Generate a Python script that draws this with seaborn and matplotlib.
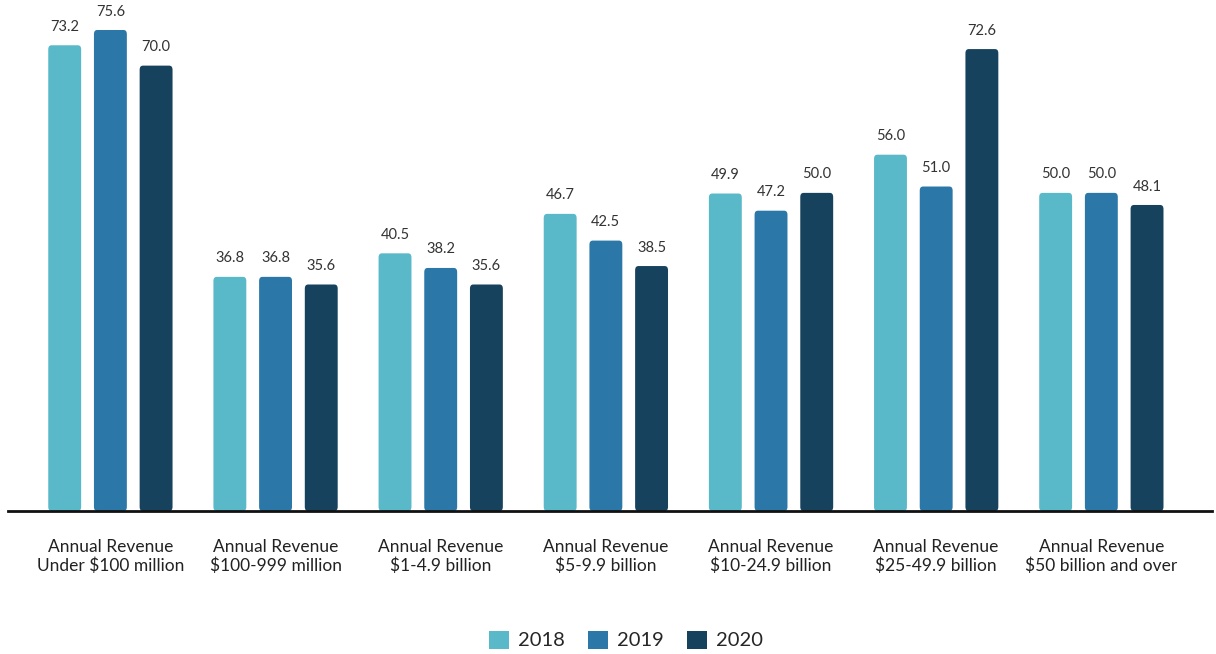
import matplotlib
matplotlib.use("Agg")
import matplotlib.pyplot as plt
import seaborn as sns
import pandas as pd
from matplotlib.patches import FancyBboxPatch, Patch

categories = [
    "Annual Revenue\nUnder $100 million",
    "Annual Revenue\n$100-999 million",
    "Annual Revenue\n$1-4.9 billion",
    "Annual Revenue\n$5-9.9 billion",
    "Annual Revenue\n$10-24.9 billion",
    "Annual Revenue\n$25-49.9 billion",
    "Annual Revenue\n$50 billion and over",
]
years = ["2018", "2019", "2020"]
values_2018 = [73.2, 36.8, 40.5, 46.7, 49.9, 56.0, 50.0]
values_2019 = [75.6, 36.8, 38.2, 42.5, 47.2, 51.0, 50.0]
values_2020 = [70.0, 35.6, 35.6, 38.5, 50.0, 72.6, 48.1]
colors = ["#5ab9c9", "#2a77a8", "#17425d"]

rows = []
for yr, vals in zip(years, [values_2018, values_2019, values_2020]):
    for c, v in zip(categories, vals):
        rows.append({"category": c, "year": yr, "value": v})
df = pd.DataFrame(rows)

sns.set_style("white")
plt.rcParams["font.family"] = ["Lato", "DejaVu Sans"]

fig = plt.figure(figsize=(12.16, 6.54), dpi=100)
ax = fig.add_axes([8 / 1216, (654 - 511) / 654, (1212 - 8) / 1216, 509 / 654])

sns.barplot(data=df, x="category", y="value", hue="year", order=categories,
            hue_order=years, palette=colors, width=0.83, gap=0.28,
            legend=False, ax=ax, saturation=1)

# Rounded bar tops and value labels
for p in list(ax.patches):
    x, y = p.get_x(), p.get_y()
    w, h = p.get_width(), p.get_height()
    fc = p.get_facecolor()
    p.remove()
    fb = FancyBboxPatch((x, y), w, h, boxstyle="round,pad=0,rounding_size=0.02",
                        mutation_aspect=6.0 / 0.0185 / 10, facecolor=fc,
                        edgecolor="none", linewidth=0)
    ax.add_patch(fb)
    ax.text(x + w / 2, y + h + 1.8, f"{h:.1f}", ha="center", va="bottom",
            fontsize=10.5, color="#333333", clip_on=False)

ax.set_xlim(-0.62, 6.67)
ax.set_ylim(0, 80)
ax.set_yticks([])
ax.set_xlabel("")
ax.set_ylabel("")
for s in ["top", "right", "left"]:
    ax.spines[s].set_visible(False)
ax.spines["bottom"].set_color("#111111")
ax.spines["bottom"].set_linewidth(2)
ax.tick_params(axis="x", length=0, pad=20, labelsize=12.5, labelcolor="#222222")
for lbl in ax.get_xticklabels():
    lbl.set_linespacing(1.2)

handles = [Patch(facecolor=c, edgecolor="none") for c in colors]
fig.legend(handles, years, loc="center", bbox_to_anchor=(626 / 1216, 1 - 640 / 654),
           ncol=3, frameon=False, fontsize=14.5, handlelength=1.0,
           handleheight=1.0, handletextpad=0.45, columnspacing=1.15)

fig.savefig("out.png", dpi=100)
